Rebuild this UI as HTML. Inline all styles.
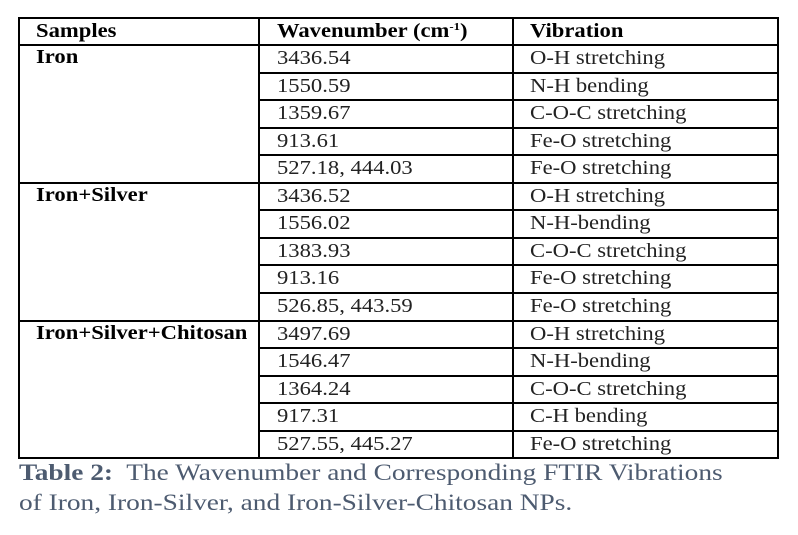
<!DOCTYPE html>
<html><head><meta charset="utf-8"><style>
body{margin:0;width:798px;height:535px;background:#fff;position:relative;overflow:hidden;font-family:"Liberation Serif","DejaVu Serif",serif;}
.h{position:absolute;height:2px;background:#000;}
.v{position:absolute;width:2px;background:#000;}
.t{position:absolute;font-size:19.5px;color:#222;white-space:nowrap;line-height:27px;transform:scaleX(1.16);transform-origin:0 50%;}
.b{font-weight:bold;color:#000;}
sup{font-size:11px;line-height:0;vertical-align:0;position:relative;top:-7px;}
.cap{position:absolute;left:19px;font-size:23px;color:#4d5b70;white-space:nowrap;transform:scaleX(1.19);transform-origin:0 50%;}
</style></head><body>
<div id="tbl"></div>
<div class="cap" style="top:460px"><b>Table 2:</b>&nbsp; The Wavenumber and Corresponding FTIR Vibrations</div>
<div class="cap" style="top:490px">of Iron, Iron-Silver, and Iron-Silver-Chitosan NPs.</div>
<script>
const samples=["Iron","Iron+Silver","Iron+Silver+Chitosan"];
const wavenumbers=["3436.54","1550.59","1359.67","913.61","527.18, 444.03","3436.52","1556.02","1383.93","913.16","526.85, 443.59","3497.69","1546.47","1364.24","917.31","527.55, 445.27"];
const vibrations=["O-H stretching","N-H bending","C-O-C stretching","Fe-O stretching","Fe-O stretching","O-H stretching","N-H-bending","C-O-C stretching","Fe-O stretching","Fe-O stretching","O-H stretching","N-H-bending","C-O-C stretching","C-H bending","Fe-O stretching"];
const T=document.getElementById('tbl');
const L=18,R=777,C1=258,C2=512,TOP=17,HB=44,RH=27.55;
function add(cls,st,txt,name){const d=document.createElement('div');d.className=cls;d.style.cssText=st;if(txt!==undefined)d.innerHTML=txt;


T.appendChild(d);return d;}
const n=wavenumbers.length,BOT=HB+n*RH;
add('h',`left:${L}px;top:${TOP}px;width:${R-L+2}px`,undefined,'table-top-border');
add('h',`left:${L}px;top:${HB}px;width:${R-L+2}px`,undefined,'header-bottom-border');
add('h',`left:${L}px;top:${BOT}px;width:${R-L+2}px`,undefined,'table-bottom-border');
add('v',`left:${L}px;top:${TOP}px;height:${BOT-TOP+2}px`,undefined,'table-left-border');
add('v',`left:${C1}px;top:${TOP}px;height:${BOT-TOP+2}px`,undefined,'column-divider-1');
add('v',`left:${C2}px;top:${TOP}px;height:${BOT-TOP+2}px`,undefined,'column-divider-2');
add('v',`left:${R}px;top:${TOP}px;height:${BOT-TOP+2}px`,undefined,'table-right-border');
add('t b',`left:36px;top:${TOP+1}px`,'Samples','header-samples');
add('t b',`left:277px;top:${TOP+1}px`,'Wavenumber (cm<sup>-1</sup>)','header-wavenumber');
add('t b',`left:530px;top:${TOP+1}px`,'Vibration','header-vibration');
for(let i=0;i<n;i++){
  const y=HB+i*RH;
  if(i>0){const left=(i%5===0)?L:C1;add('h',`left:${left}px;top:${Math.round(y)}px;width:${R-left+2}px`,undefined,'row-border');}
  if(i%5===0)add('t b',`left:36px;top:${Math.round(y)}px`,samples[i/5],'sample-name');
  add('t',`left:277px;top:${Math.round(y)+1}px`,wavenumbers[i],'wavenumber-cell');
  add('t',`left:530px;top:${Math.round(y)+1}px`,vibrations[i],'vibration-cell');
}
</script>
</body></html>
